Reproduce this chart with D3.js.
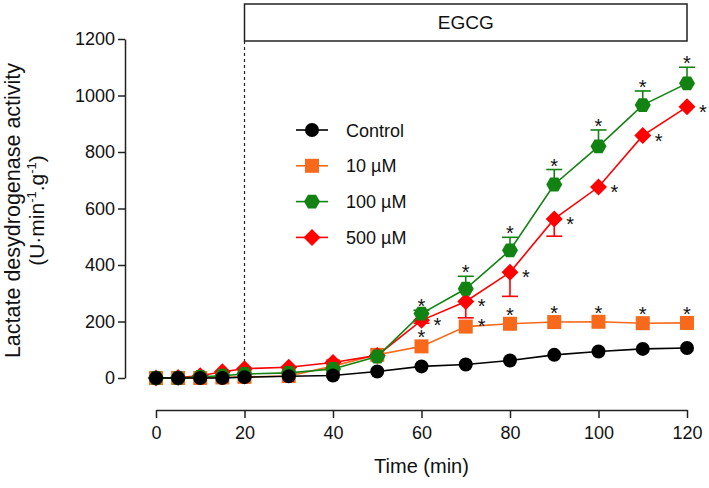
<!DOCTYPE html>
<html>
<head>
<meta charset="utf-8">
<script src="https://cdn.jsdelivr.net/npm/d3@7"></script>
<style>
  html, body { margin: 0; padding: 0; background: #fff; }
  #chart { width: 709px; height: 488px; }
  text { font-family: "Liberation Sans", Arial, sans-serif; }
</style>
</head>
<body>
<div id="chart"></div>
<script>
// Sampling times (min)
const times = [0, 5, 10, 15, 20, 30, 40, 50, 60, 70, 80, 90, 100, 110, 120];

// LDH activity (U.min-1.g-1)
const controlValues = [0, 0, 0, 0, 3, 6, 9, 23, 41, 48, 62, 82, 94, 103, 106];
const egcg10Values = [0, 0, 0, 2, 4, 7, 42, 82, 112, 182, 192, 198, 199, 194, 195];
const egcg100Values = [0, 0, 4, 8, 14, 18, 32, 76, 228, 316, 452, 685, 820, 966, 1043];
const egcg500Values = [0, 2, 8, 22, 33, 38, 55, 80, 204, 271, 374, 563, 676, 858, 960];

// SEM (only the visible half of each bar is drawn in the original)
const egcg100Err = [0, 0, 0, 0, 0, 0, 0, 0, 12, 44, 46, 53, 58, 50, 57];
const egcg500Err = [0, 0, 0, 0, 0, 0, 0, 0, 10, 58, 85, 61, 0, 0, 0];

// Significance marks (* vs control)
const sigTimes = [60, 70, 80, 90, 100, 110, 120];

const legendLabels = ['Control', '10 µM', '100 µM', '500 µM'];
const xTicks = [0, 20, 40, 60, 80, 100, 120];
const yTicks = [0, 200, 400, 600, 800, 1000, 1200];
const egcgStart = 20;

const width = 709;
const height = 488;

const x = d3.scaleLinear().domain([0, 120]).range([156, 687]);
const y = d3.scaleLinear().domain([0, 1200]).range([378, 39]);

const svg = d3.select('#chart')
  .append('svg')
  .attr('width', width)
  .attr('height', height);

// Symbol paths
const hexagon = (r) => {
  const pts = d3.range(6).map(i => {
    const a = Math.PI / 3 * i;
    return [r * Math.cos(a), r * Math.sin(a)];
  });
  return 'M' + pts.map(p => p.join(',')).join('L') + 'Z';
};
const shapes = {
  circle: g => g.append('circle').attr('r', 7),
  square: g => g.append('rect').attr('x', -7).attr('y', -7).attr('width', 14).attr('height', 14),
  hexagon: g => g.append('path').attr('d', hexagon(8)),
  diamond: g => g.append('path').attr('d', 'M0,-8.5L8.5,0L0,8.5L-8.5,0Z')
};

const series = [
  { name: legendLabels[0], values: controlValues, color: '#000000', shape: 'circle', err: null, errDir: 0, sig: null },
  { name: legendLabels[1], values: egcg10Values, color: '#f8691c', shape: 'square', err: null, errDir: 0, sig: 'above' },
  { name: legendLabels[2], values: egcg100Values, color: '#128312', shape: 'hexagon', err: egcg100Err, errDir: 1, sig: 'aboveErr' },
  { name: legendLabels[3], values: egcg500Values, color: '#ff0000', shape: 'diamond', err: egcg500Err, errDir: -1, sig: 'right' }
];

// Drawing order: orange, red, green, black on top
const drawOrder = [1, 3, 2, 0];

// EGCG bar and start line
svg.append('rect')
  .attr('x', x(egcgStart))
  .attr('y', 4)
  .attr('width', x(120) - x(egcgStart))
  .attr('height', 37)
  .attr('fill', 'none')
  .attr('stroke', '#222')
  .attr('stroke-width', 1.5);

svg.append('text')
  .attr('x', (x(egcgStart) + x(120)) / 2)
  .attr('y', 29)
  .attr('text-anchor', 'middle')
  .attr('font-size', '19px')
  .attr('fill', '#111')
  .text('EGCG');

svg.append('line')
  .attr('x1', x(egcgStart))
  .attr('x2', x(egcgStart))
  .attr('y1', 41)
  .attr('y2', y(0))
  .attr('stroke', '#222')
  .attr('stroke-width', 1.2)
  .attr('stroke-dasharray', '3,3');

// Y axis
const yAxis = svg.append('g')
  .attr('transform', 'translate(125,0)')
  .call(d3.axisLeft(y).tickValues(yTicks).tickFormat(d3.format('d'))
    .tickSize(7).tickSizeOuter(0).tickPadding(3));
yAxis.select('.domain').attr('stroke', '#222').attr('stroke-width', 1.5);
yAxis.selectAll('.tick line').attr('stroke', '#222').attr('stroke-width', 1.5);
yAxis.selectAll('.tick text')
  .attr('font-size', '18px')
  .attr('fill', '#111')
  .attr('font-family', '"Liberation Sans", Arial, sans-serif');

// X axis (offset below the plot)
const xAxis = svg.append('g')
  .attr('transform', 'translate(0,410)')
  .call(d3.axisBottom(x).tickValues(xTicks).tickFormat(d3.format('d'))
    .tickSize(8).tickSizeOuter(0).tickPadding(8));
xAxis.select('.domain').attr('stroke', '#222').attr('stroke-width', 1.5);
xAxis.selectAll('.tick line').attr('stroke', '#222').attr('stroke-width', 1.5);
xAxis.selectAll('.tick text')
  .attr('font-size', '18px')
  .attr('fill', '#111')
  .attr('font-family', '"Liberation Sans", Arial, sans-serif');

// Axis titles
svg.append('text')
  .attr('x', (x(0) + x(120)) / 2)
  .attr('y', 473)
  .attr('text-anchor', 'middle')
  .attr('font-size', '20px')
  .attr('fill', '#111')
  .text('Time (min)');

const yMid = (y(0) + y(1200)) / 2 + 2;
svg.append('text')
  .attr('transform', `translate(20,${yMid}) rotate(-90)`)
  .attr('text-anchor', 'middle')
  .attr('font-size', '21.5px')
  .attr('fill', '#111')
  .text('Lactate desydrogenase activity');

const yUnit = svg.append('text')
  .attr('transform', `translate(44,${yMid}) rotate(-90)`)
  .attr('text-anchor', 'middle')
  .attr('font-size', '21px')
  .attr('fill', '#111');
yUnit.append('tspan').text('(U·min');
yUnit.append('tspan').attr('font-size', '13px').attr('dy', -8).text('-1');
yUnit.append('tspan').attr('dy', 8).text('.g');
yUnit.append('tspan').attr('font-size', '13px').attr('dy', -8).text('-1');
yUnit.append('tspan').attr('dy', 8).text(')');

// Series lines, error bars and markers
const line = d3.line()
  .x((d, i) => x(times[i]))
  .y(d => y(d));

drawOrder.forEach(k => {
  const s = series[k];
  const g = svg.append('g').attr('class', 'series');

  g.append('path')
    .datum(s.values)
    .attr('d', line)
    .attr('fill', 'none')
    .attr('stroke', s.color)
    .attr('stroke-width', 1.6);

  if (s.err) {
    const eb = g.append('g').attr('stroke', s.color).attr('stroke-width', 1.6);
    s.err.forEach((e, i) => {
      if (!e) return;
      const cx = x(times[i]);
      const yEnd = y(s.values[i] + s.errDir * e);
      eb.append('line').attr('x1', cx).attr('x2', cx).attr('y1', y(s.values[i])).attr('y2', yEnd);
      eb.append('line').attr('x1', cx - 8).attr('x2', cx + 8).attr('y1', yEnd).attr('y2', yEnd);
    });
  }

  s.values.forEach((v, i) => {
    const m = g.append('g').attr('transform', `translate(${x(times[i])},${y(v)})`);
    shapes[s.shape](m).attr('fill', s.color);
  });
});

// Significance asterisks
series.forEach(s => {
  if (!s.sig) return;
  sigTimes.forEach(t => {
    const i = times.indexOf(t);
    let ax = x(t);
    let ay;
    if (s.sig === 'aboveErr') {
      ay = y(s.values[i] + s.err[i]) - 9;
    } else if (s.sig === 'right') {
      ax += 16;
      ay = y(s.values[i]) + 0;
    } else if (t === 70) {
      // 10 µM mark at 70 min sits beside the point
      ax += 16;
      ay = y(s.values[i]) - 6;
    } else {
      ay = y(s.values[i]) - 14;
    }
    svg.append('text')
      .attr('x', ax)
      .attr('y', ay + 12)
      .attr('text-anchor', 'middle')
      .attr('font-size', '20px')
      .attr('fill', '#111')
      .text('*');
  });
});

// Legend
const legend = svg.append('g').attr('transform', 'translate(312,130)');
series.forEach((s, i) => {
  const row = legend.append('g').attr('transform', `translate(0,${i * 35.8})`);
  row.append('line')
    .attr('x1', -16).attr('x2', 16)
    .attr('stroke', s.color)
    .attr('stroke-width', 1.6);
  shapes[s.shape](row).attr('fill', s.color);
  row.append('text')
    .attr('x', 34)
    .attr('y', 6.5)
    .attr('font-size', '18px')
    .attr('fill', '#111')
    .text(s.name);
});
</script>
</body>
</html>
